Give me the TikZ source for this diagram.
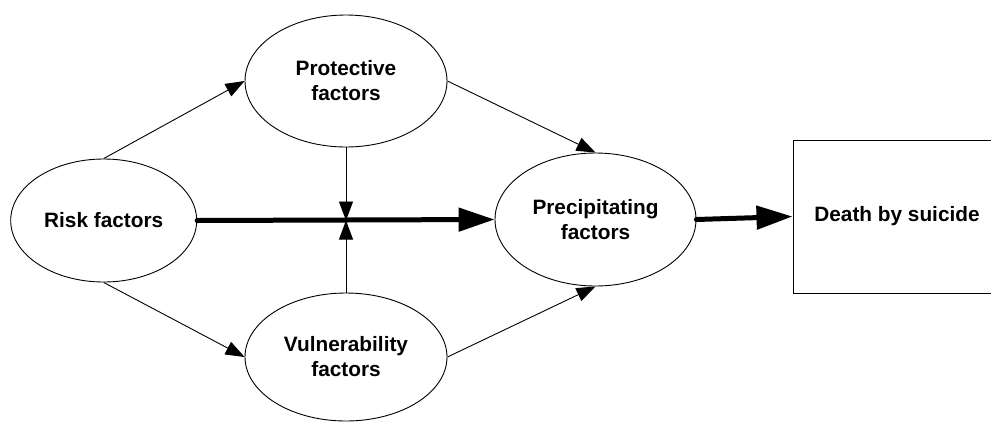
\documentclass[tikz,border=0pt]{standalone}
\usepackage{fontspec}
\setmainfont{Liberation Sans}
\usetikzlibrary{shapes.geometric,arrows.meta}
\begin{document}
\begin{tikzpicture}[x=1pt,y=-1pt,
  every node/.style={font=\bfseries\fontsize{20.8}{25}\selectfont, align=center, inner sep=0pt},
  oval/.style={ellipse, draw, line width=0.9pt},
  thin/.style={line width=0.9pt, -{Triangle[length=19pt,width=14pt]}},
  thick/.style={line width=5pt, line cap=round, -{Triangle[length=36pt,width=23pt]}}]
\useasboundingbox (0,0) rectangle (991,421);
\node[oval, minimum width=186pt, minimum height=123pt] (risk) at (103.7,220.5) {Risk factors};
\node[oval, minimum width=202pt, minimum height=132pt] (prot) at (346,81) {Protective\\factors};
\node[oval, minimum width=202pt, minimum height=128pt] (vul) at (346,357) {Vulnerability\\factors};
\node[oval, minimum width=201pt, minimum height=133pt] (prec) at (595.5,219.5) {Precipitating\\factors};
\node[draw, line width=1pt, minimum width=208pt, minimum height=153pt] (death) at (897,216.5) {Death by suicide};
\coordinate (x) at (346,220.5);
\draw[thin] (risk.north) -- (prot.west);
\draw[thin] (risk.south) -- (vul.west);
\draw[thin] (prot.east) -- (prec.north);
\draw[thin] (vul.east) -- (prec.south);
\draw[thin] (prot.south) -- (x);
\draw[thin] (vul.north) -- (x);
\draw[thick] (risk.east) -- (prec.west);
\draw[thick] (prec.east) -- (death.west);
\end{tikzpicture}
\end{document}
